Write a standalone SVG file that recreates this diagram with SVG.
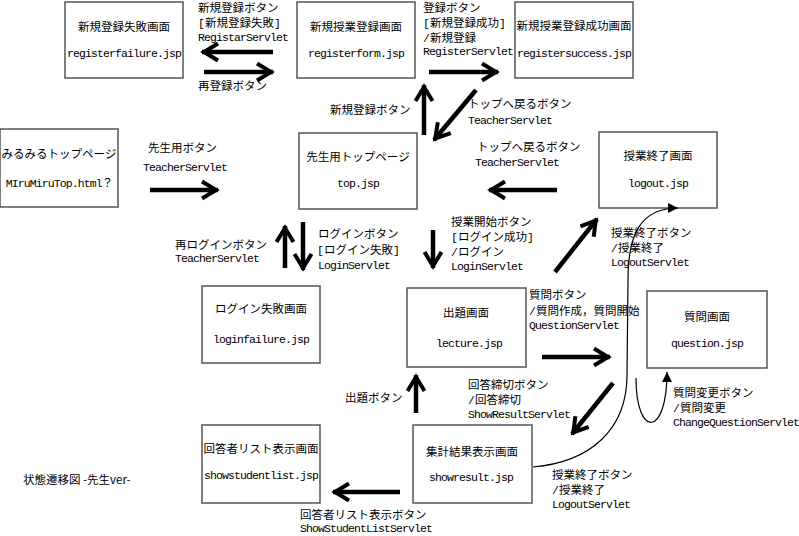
<svg xmlns="http://www.w3.org/2000/svg" width="799" height="536" viewBox="0 0 799 536">
<style>
.box{fill:#fff;stroke:#555;stroke-width:1.5}
.jp{font-family:"Noto Sans CJK JP","Liberation Sans",sans-serif;font-size:11.5px;fill:#000}
.en{font-family:"Liberation Mono","Noto Sans CJK JP",monospace;font-size:11.5px;letter-spacing:-0.9px;fill:#000}
.b{font-family:"Liberation Mono",monospace}
.c{text-anchor:middle}
.thick{fill:none;stroke:#000;stroke-width:4.5;marker-end:url(#ah)}
.thin{fill:none;stroke:#000;stroke-width:1.2;marker-end:url(#tri)}
</style>
<defs>
<marker id="ah" markerUnits="userSpaceOnUse" markerWidth="24" markerHeight="24" viewBox="-18 -12 24 24" refX="2" refY="0" orient="auto">
<path d="M-14,-8.5 L0,0 L-14,8.5" fill="none" stroke="#000" stroke-width="4"/>
</marker>
<marker id="tri" markerUnits="userSpaceOnUse" markerWidth="14" markerHeight="14" viewBox="-12 -7 14 14" refX="0" refY="0" orient="auto">
<path d="M-10,-5 L0,0 L-10,5 Z" fill="#000"/>
</marker>
</defs>
<rect width="799" height="536" fill="#fff"/>

<g id="registerfailure">
<rect class="box" x="65" y="2" width="118" height="76"/>
<text class="jp c" x="124" y="31">新規登録失敗画面</text>
<text class="en c" x="124" y="57">registerfailure.jsp</text>
</g>
<g id="registerform">
<rect class="box" x="297" y="2" width="118" height="76"/>
<text class="jp c" x="356" y="31">新規授業登録画面</text>
<text class="en c" x="356" y="57">registerform.jsp</text>
</g>
<g id="registersuccess">
<rect class="box" x="515" y="2" width="118" height="76"/>
<text class="jp c" x="574" y="30">新規授業登録成功画面</text>
<text class="en c" x="574" y="57">registersuccess.jsp</text>
</g>
<g id="mirumirutop">
<rect class="box" x="0" y="129" width="118" height="78"/>
<text class="jp c" x="59" y="158">みるみるトップページ</text>
<text class="en c" x="59" y="187">MIruMiruTop.html？</text>
</g>
<g id="top">
<rect class="box" x="299" y="133" width="118" height="76"/>
<text class="jp c" x="358" y="161">先生用トップページ</text>
<text class="en c" x="358" y="187">top.jsp</text>
</g>
<g id="logout">
<rect class="box" x="599" y="132" width="118" height="76"/>
<text class="jp c" x="658" y="160">授業終了画面</text>
<text class="en c" x="658" y="187">logout.jsp</text>
</g>
<g id="loginfailure">
<rect class="box" x="202" y="286" width="118" height="77"/>
<text class="jp c" x="261" y="313">ログイン失敗画面</text>
<text class="en c" x="261" y="343">loginfailure.jsp</text>
</g>
<g id="lecture">
<rect class="box" x="407" y="288" width="119" height="79"/>
<text class="jp c" x="466" y="317">出題画面</text>
<text class="en c" x="469" y="347">lecture.jsp</text>
</g>
<g id="question">
<rect class="box" x="647" y="291" width="120" height="77"/>
<text class="jp c" x="707" y="321">質問画面</text>
<text class="en c" x="707" y="347">question.jsp</text>
</g>
<g id="showstudentlist">
<rect class="box" x="202" y="425" width="118" height="78"/>
<text class="jp c" x="261" y="453">回答者リスト表示画面</text>
<text class="en c" x="261" y="479">showstudentlist.jsp</text>
</g>
<g id="showresult">
<rect class="box" x="413" y="425" width="119" height="78"/>
<text class="jp c" x="472" y="456">集計結果表示画面</text>
<text class="en c" x="471" y="481">showresult.jsp</text>
</g>

<g id="connectors">
<path class="thick" d="M273,52 L202,52"/>
<path class="thick" d="M204,72 L273,72"/>
<path class="thick" d="M429,72 L498,72"/>
<path class="thick" d="M424,135 L424,85"/>
<path class="thick" d="M476,90 L434,140"/>
<path class="thick" d="M150,190 L218,190"/>
<path class="thick" d="M557,190 L489,190"/>
<path class="thick" d="M285,268 L285,226"/>
<path class="thick" d="M303,222 L303,270"/>
<path class="thick" d="M433,230 L433,268"/>
<path class="thick" d="M555,272 L597,219"/>
<path class="thick" d="M542,357 L610,357"/>
<path class="thick" d="M416,413 L416,375"/>
<path class="thick" d="M613,383 L572,434"/>
<path class="thick" d="M400,492 L333,492"/>
<path class="thin" d="M533,467 C590,462 627,430 627,375 L628,280 C628,235 640,208 678,208"/>
<path class="thin" d="M636,378 C636,438 667,438 667,372"/>
</g>

<g id="labels">
<text class="jp" x="198" y="12">新規登録ボタン</text>
<text class="jp" x="198" y="27"><tspan class="b">[</tspan>新規登録失敗<tspan class="b">]</tspan></text>
<text class="en" x="198" y="41">RegistarServlet</text>
<text class="jp" x="198" y="90">再登録ボタン</text>

<text class="jp" x="423" y="12">登録ボタン</text>
<text class="jp" x="423" y="27"><tspan class="b">[</tspan>新規登録成功<tspan class="b">]</tspan></text>
<text class="jp" x="423" y="42"><tspan class="b">/</tspan>新規登録</text>
<text class="en" x="423" y="55">RegisterServlet</text>

<text class="jp" x="330" y="114">新規登録ボタン</text>
<text class="jp" x="468" y="108">トップへ戻るボタン</text>
<text class="en" x="468" y="124">TeacherServlet</text>

<text class="jp" x="148" y="152">先生用ボタン</text>
<text class="en" x="143" y="171">TeacherServlet</text>

<text class="jp" x="477" y="151">トップへ戻るボタン</text>
<text class="en" x="475" y="166">TeacherServlet</text>

<text class="jp" x="175" y="249">再ログインボタン</text>
<text class="en" x="175" y="262">TeacherServlet</text>

<text class="jp" x="318" y="238">ログインボタン</text>
<text class="jp" x="317" y="254"><tspan class="b">[</tspan>ログイン失敗<tspan class="b">]</tspan></text>
<text class="en" x="318" y="269">LoginServlet</text>

<text class="jp" x="451" y="226">授業開始ボタン</text>
<text class="jp" x="451" y="241"><tspan class="b">[</tspan>ログイン成功<tspan class="b">]</tspan></text>
<text class="jp" x="451" y="256"><tspan class="b">/</tspan>ログイン</text>
<text class="en" x="451" y="270">LoginServlet</text>

<text class="jp" x="611" y="237">授業終了ボタン</text>
<text class="jp" x="611" y="252"><tspan class="b">/</tspan>授業終了</text>
<text class="en" x="611" y="266">LogoutServlet</text>

<text class="jp" x="529" y="299">質問ボタン</text>
<text class="jp" x="529" y="315"><tspan class="b">/</tspan>質問作成，質問開始</text>
<text class="en" x="529" y="329">QuestionServlet</text>

<text class="jp" x="345" y="402">出題ボタン</text>

<text class="jp" x="468" y="389">回答締切ボタン</text>
<text class="jp" x="468" y="404"><tspan class="b">/</tspan>回答締切</text>
<text class="en" x="468" y="418">ShowResultServlet</text>

<text class="jp" x="673" y="397">質問変更ボタン</text>
<text class="jp" x="673" y="412"><tspan class="b">/</tspan>質問変更</text>
<text class="en" x="673" y="426">ChangeQuestionServlet</text>

<text class="jp" x="552" y="479">授業終了ボタン</text>
<text class="jp" x="552" y="494"><tspan class="b">/</tspan>授業終了</text>
<text class="en" x="552" y="508">LogoutServlet</text>

<text class="jp" x="300" y="519">回答者リスト表示ボタン</text>
<text class="en" x="300" y="532">ShowStudentListServlet</text>

<text class="jp" x="23" y="484">状態遷移図 -先生ver-</text>
</g>
</svg>
